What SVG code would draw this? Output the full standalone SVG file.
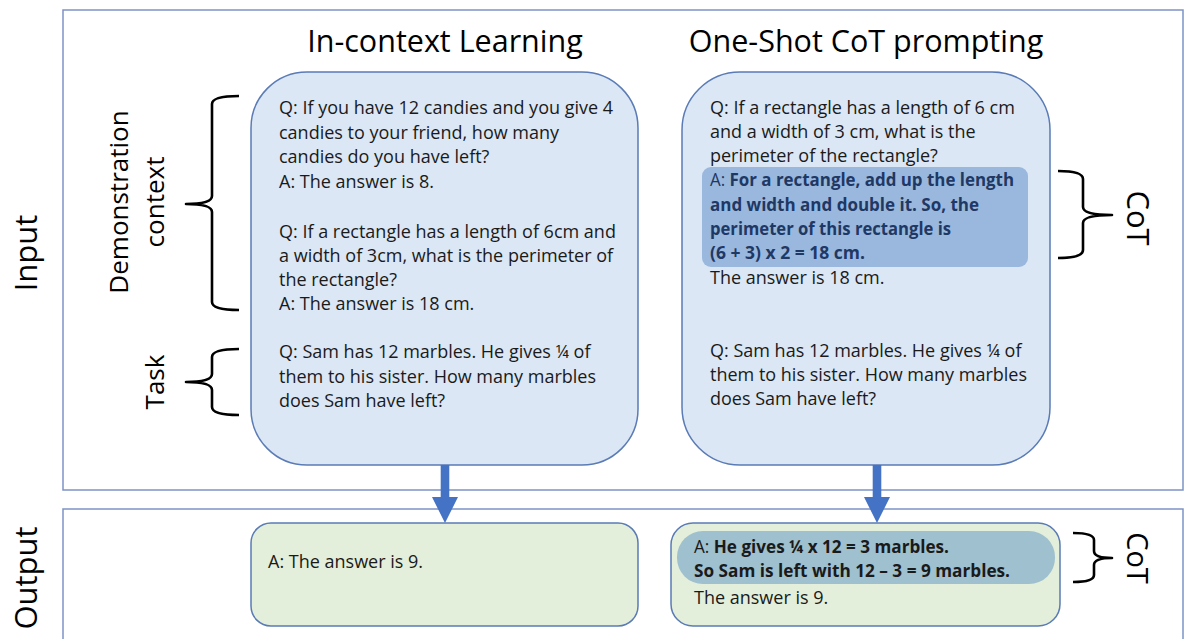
<svg xmlns="http://www.w3.org/2000/svg" width="1184" height="639" viewBox="0 0 1184 639">
<style>
.frame{fill:none;stroke:#7d93c6;stroke-width:1.5}
.inbox{fill:#dbe7f5;stroke:#5a7bb5;stroke-width:1.5}
.outbox{fill:#e3efda;stroke:#5a7bb5;stroke-width:1.5}
.hl{fill:#9ab8de}
.hl2{fill:#9fc0ce}
.brace{fill:none;stroke:#000;stroke-width:2.6;stroke-linejoin:round;stroke-linecap:butt}
text{font-family:"Open Sans","Liberation Sans",sans-serif;fill:#1a1a1a}
.t{font-size:18px}
.title{font-size:30.5px;fill:#000;text-anchor:middle}
.side{font-size:31px;fill:#000;text-anchor:middle}
.lab{font-size:26px;fill:#000;text-anchor:middle}
.navy{fill:#1f3864}
.b{font-weight:bold}
.arrow{fill:#4472c4}
</style>
<g id="frames">
<rect class="frame" x="63" y="10" width="1120" height="480"/>
<rect class="frame" x="63" y="509" width="1120" height="140"/>
</g>
<g id="side-labels">
<text class="side" transform="translate(37,253) rotate(-90)">Input</text>
<text class="side" transform="translate(37,578) rotate(-90)">Output</text>
<text class="lab" transform="translate(128,202) rotate(-90)">Demonstration</text>
<text class="lab" transform="translate(164,202) rotate(-90)">context</text>
<text class="lab" transform="translate(164,382) rotate(-90)">Task</text>
</g>
<g id="titles">
<text class="title" x="445" y="52">In-context Learning</text>
<text class="title" x="866" y="52">One-Shot CoT prompting</text>
</g>
<g id="braces">
<path class="brace" d="M239,96 Q212,96 212,104 L212,196 Q212,204 186,204 Q212,204 212,212 L212,302 Q212,310 239,310"/>
<path class="brace" d="M239,349 Q212,349 212,357 L212,374 Q212,382 186,382 Q212,382 212,390 L212,407 Q212,415 239,415"/>
<path class="brace" d="M1058,171 Q1083,171 1083,179 L1083,207 Q1083,215 1112,215 Q1083,215 1083,223 L1083,250 Q1083,258 1058,258"/>
<path class="brace" d="M1073,533 Q1094,533 1094,540 L1094,551 Q1094,558 1112,558 Q1094,558 1094,565 L1094,575 Q1094,582 1073,582"/>
</g>
<g id="cot-labels">
<text class="side" transform="translate(1127,218) rotate(90)">CoT</text>
<text class="side" style="font-size:29px" transform="translate(1127,558) rotate(90)">CoT</text>
</g>
<g id="icl-input">
<rect class="inbox" x="251" y="72" width="387" height="393" rx="56" ry="56"/>
<text class="t" x="279" y="114">Q: If you have 12 candies and you give 4</text>
<text class="t" x="279" y="139">candies to your friend, how many</text>
<text class="t" x="279" y="163">candies do you have left?</text>
<text class="t" x="279" y="188">A: The answer is 8.</text>
<text class="t" x="279" y="238">Q: If a rectangle has a length of 6cm and</text>
<text class="t" x="279" y="262">a width of 3cm, what is the perimeter of</text>
<text class="t" x="279" y="286">the rectangle?</text>
<text class="t" x="279" y="310">A: The answer is 18 cm.</text>
<text class="t" x="279" y="358">Q: Sam has 12 marbles. He gives ¼ of</text>
<text class="t" x="279" y="383">them to his sister. How many marbles</text>
<text class="t" x="279" y="407">does Sam have left?</text>
</g>
<g id="cot-input">
<rect class="inbox" x="682" y="72" width="368" height="393" rx="58" ry="58"/>
<rect class="hl" x="702" y="167" width="326" height="100" rx="9" ry="9"/>
<text class="t" x="710" y="114">Q: If a rectangle has a length of 6 cm</text>
<text class="t" x="710" y="138">and a width of 3 cm, what is the</text>
<text class="t" x="710" y="162">perimeter of the rectangle?</text>
<text class="t navy" x="710" y="186" textLength="304" lengthAdjust="spacingAndGlyphs">A: <tspan class="b navy">For a rectangle, add up the length</tspan></text>
<text class="t navy b" x="710" y="211" textLength="269" lengthAdjust="spacingAndGlyphs">and width and double it. So, the</text>
<text class="t navy b" x="710" y="235" textLength="241" lengthAdjust="spacingAndGlyphs">perimeter of this rectangle is</text>
<text class="t navy b" x="710" y="259" textLength="155" lengthAdjust="spacingAndGlyphs">(6 + 3) x 2 = 18 cm.</text>
<text class="t" x="710" y="284">The answer is 18 cm.</text>
<text class="t" x="710" y="357">Q: Sam has 12 marbles. He gives ¼ of</text>
<text class="t" x="710" y="381">them to his sister. How many marbles</text>
<text class="t" x="710" y="405">does Sam have left?</text>
</g>
<g id="connectors">
<path class="arrow" d="M440.7,465 L449.3,465 L449.3,497 L458,497 L445,523 L432,497 L440.7,497 Z"/>
<path class="arrow" d="M872.7,465 L881.3,465 L881.3,497 L890,497 L877,523 L864,497 L872.7,497 Z"/>
</g>
<g id="icl-output">
<rect class="outbox" x="251" y="523" width="387" height="103" rx="20" ry="20"/>
<text class="t" x="268" y="568">A: The answer is 9.</text>
</g>
<g id="cot-output">
<rect class="outbox" x="671" y="523" width="389" height="103" rx="22" ry="22"/>
<rect class="hl2" x="677" y="531" width="378" height="53" rx="26" ry="26"/>
<text class="t" x="694" y="553" textLength="255" lengthAdjust="spacingAndGlyphs">A: <tspan class="b">He gives ¼ x 12 = 3 marbles.</tspan></text>
<text class="t b" x="694" y="577" textLength="316" lengthAdjust="spacingAndGlyphs">So Sam is left with 12 – 3 = 9 marbles.</text>
<text class="t" x="694" y="604">The answer is 9.</text>
</g>
</svg>
